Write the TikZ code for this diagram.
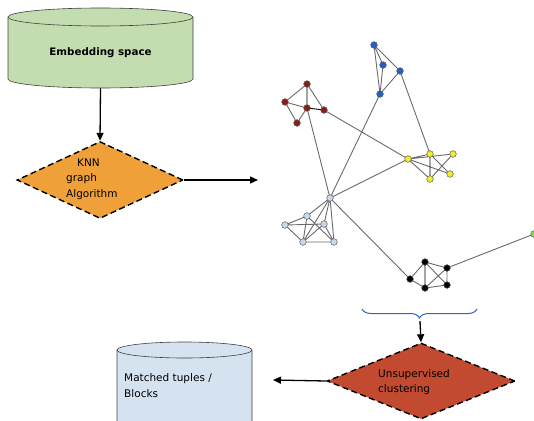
\documentclass[tikz,border=0pt]{standalone}
\usepackage{fontspec}
\setmainfont{DejaVu Sans}
\usetikzlibrary{arrows.meta,shapes.geometric,decorations.pathreplacing}

\definecolor{cylgreen}{HTML}{C3DDB0}
\definecolor{cylblue}{HTML}{D5E3F1}
\definecolor{knnorange}{HTML}{F0A038}
\definecolor{clusterred}{HTML}{C24A30}
\definecolor{bracecol}{HTML}{2F64C8}
\definecolor{vred}{HTML}{8E1A12}
\definecolor{vblue}{HTML}{2060C8}
\definecolor{vyellow}{HTML}{F4EC2A}
\definecolor{vpale}{HTML}{C9D9EC}
\definecolor{vgreen}{HTML}{80E040}
\definecolor{edgegray}{HTML}{6A6A6A}

\tikzset{
  flowarrow/.style={line width=1.3pt, -{Triangle[length=8pt,width=7pt]}},
  dbox/.style={diamond, draw=black, line width=1.4pt, dash pattern=on 6pt off 3.5pt,
               inner sep=0pt},
  cylline/.style={draw=black!75, line width=0.6pt},
  vtx/.style={circle, inner sep=0pt, minimum size=6.5pt, draw=black!60, line width=0.4pt},
  gedge/.style={draw=edgegray, line width=0.9pt},
  kedge/.style={draw=black, line width=0.9pt},
  lbl/.style={font=\fontsize{10.5}{15.5}\selectfont, align=left, inner sep=0pt},
}

\begin{document}
\begin{tikzpicture}[x=1pt, y=-1pt]
\useasboundingbox (0,0) rectangle (534,420);
\clip (0,0) rectangle (534,420);

% ---- Embedding space cylinder (y grows downwards here) ----
\path[fill=cylgreen, cylline]
  (8,17) -- (8,79) arc[start angle=180, end angle=0, x radius=92.5, y radius=9]
  -- (193,17) arc[start angle=0, end angle=-180, x radius=92.5, y radius=9] -- cycle;
\draw[cylline] (8,17) arc[start angle=180, end angle=0, x radius=92.5, y radius=9];
\node[font=\bfseries\fontsize{10.3}{12}\selectfont] (emb) at (100.5,53) {Embedding space};
\coordinate (embbot) at (100.5,88);

% ---- KNN graph diamond ----
\node[dbox, fill=knnorange, minimum width=166pt, minimum height=77pt, aspect=2.16]
  (knn) at (100,180) {};
\node[lbl, anchor=west] (knnlbl) at (66,179) {\hspace*{11pt}KNN\\graph\\Algorithm};
\coordinate (knnout) at (258,180);

\draw[flowarrow] (embbot) -- (knn.north);
\draw[flowarrow] (knn.east) -- (knnout);

% ---- KNN graph ----
% red cluster
\node[vtx, fill=vred] (r1) at (307,84) {};
\node[vtx, fill=vred] (r2) at (285,102) {};
\node[vtx, fill=vred] (r3) at (307,108) {};
\node[vtx, fill=vred] (r4) at (324,110) {};
\node[vtx, fill=vred] (r5) at (297,123) {};
% blue cluster
\node[vtx, fill=vblue] (b1) at (374,45) {};
\node[vtx, fill=vblue] (b2) at (383,65) {};
\node[vtx, fill=vblue] (b3) at (400,71) {};
\node[vtx, fill=vblue] (b4) at (380,94) {};
% yellow cluster
\node[vtx, fill=vyellow] (y1) at (408,159) {};
\node[vtx, fill=vyellow] (y2) at (430,154) {};
\node[vtx, fill=vyellow] (y3) at (453,154) {};
\node[vtx, fill=vyellow] (y4) at (450,174) {};
\node[vtx, fill=vyellow] (y5) at (430,179) {};
% pale cluster
\node[vtx, fill=vpale] (h) at (330,198) {};
\node[vtx, fill=vpale] (l1) at (307,216) {};
\node[vtx, fill=vpale] (l2) at (285,225) {};
\node[vtx, fill=vpale] (l3) at (324,224) {};
\node[vtx, fill=vpale] (l4) at (303,242) {};
\node[vtx, fill=vpale] (l5) at (334,242) {};
% black cluster
\node[vtx, fill=black] (k1) at (410,279) {};
\node[vtx, fill=black] (k2) at (425,262) {};
\node[vtx, fill=black] (k3) at (447,268) {};
\node[vtx, fill=black] (k4) at (425,288) {};
\node[vtx, fill=black] (k5) at (447,285) {};
% lone green vertex
\node[vtx, fill=vgreen] (g) at (534,234) {};

% edges between the vertex centres
\path[gedge]
  (r1.center) -- (r2.center) (r1.center) -- (r4.center) (r2.center) -- (r3.center)
  (r2.center) -- (r5.center) (r3.center) -- (r5.center)
  (r3.center) -- (h.center) (r4.center) -- (y1.center)
  (b1.center) -- (b2.center) (b1.center) -- (b3.center) (b1.center) -- (b4.center)
  (b2.center) -- (b4.center) (b3.center) -- (b4.center)
  (b3.center) -- (y2.center) (b4.center) -- (h.center)
  (y1.center) -- (y2.center) (y1.center) -- (y3.center) (y1.center) -- (y4.center)
  (y1.center) -- (y5.center) (y2.center) -- (y4.center) (y3.center) -- (y5.center)
  (y1.center) -- (h.center)
  (h.center) -- (l1.center) (h.center) -- (l3.center) (h.center) -- (l5.center)
  (h.center) -- (l4.center)
  (l1.center) -- (l2.center) (l2.center) -- (l3.center) (l2.center) -- (l4.center)
  (l1.center) -- (l4.center) (l1.center) -- (l5.center)
  (l3.center) -- (l4.center) (l3.center) -- (l5.center) (l4.center) -- (l5.center)
  (h.center) -- (k1.center)
  (k1.center) -- (k2.center) (k1.center) -- (k4.center) (k2.center) -- (k3.center)
  (k2.center) -- (k5.center) (k3.center) -- (k4.center) (k3.center) -- (k5.center)
  (k4.center) -- (k5.center)
  (k3.center) -- (g.center);
\path[kedge] (r1.center) -- (r3.center) (r3.center) -- (r4.center)
  (y2.center) -- (y5.center) (k2.center) -- (k4.center);

% vertices again, on top of the edges
\foreach \v/\c in {r1/vred,r2/vred,r3/vred,r4/vred,r5/vred,
                   b1/vblue,b2/vblue,b3/vblue,b4/vblue,
                   y1/vyellow,y2/vyellow,y3/vyellow,y4/vyellow,y5/vyellow,
                   h/vpale,l1/vpale,l2/vpale,l3/vpale,l4/vpale,l5/vpale,
                   k1/black,k2/black,k3/black,k4/black,k5/black,g/vgreen}
  \path[fill=\c, draw=black!60, line width=0.4pt] (\v.center) circle[radius=3.25pt];

% ---- brace under the graph ----
\coordinate (bl) at (362,309);
\coordinate (br) at (477,309);
\draw[bracecol, line width=1pt, decorate,
      decoration={brace, amplitude=9pt, aspect=0.5}] (br) -- (bl);
\coordinate (btip) at (420,321);

% ---- Unsupervised clustering diamond ----
\node[dbox, fill=clusterred, minimum width=188pt, minimum height=76pt, aspect=2.47]
  (clu) at (421,381) {};
\node[lbl, anchor=west] (clulbl) at (378,382) {Unsupervised\\clustering};
\draw[flowarrow] (btip) -- (clu.north);

% ---- Matched tuples cylinder ----
\path[fill=cylblue, cylline]
  (117,350) -- (117,440) -- (252,440) -- (252,350)
  arc[start angle=0, end angle=-180, x radius=67.5, y radius=8] -- cycle;
\draw[cylline] (117,350) arc[start angle=180, end angle=0, x radius=67.5, y radius=8];
\node[lbl, anchor=west] (mt) at (124,385.5) {Matched tuples /\\Blocks};
\coordinate (mtin) at (273,380);

\draw[flowarrow] (clu.west) -- (mtin);
\end{tikzpicture}
\end{document}
